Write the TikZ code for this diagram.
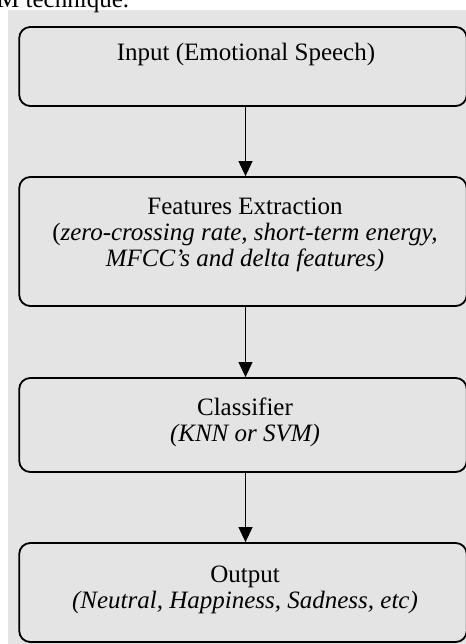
\documentclass[tikz,border=0pt]{standalone}
\usepackage{fontspec}
\setmainfont{Liberation Serif}
\usetikzlibrary{arrows.meta}
\definecolor{panel}{RGB}{228,228,228}
\tikzset{
  box/.style={draw=black, line width=1.8pt, rounded corners=11pt, fill=panel, inner sep=0pt},
  lbl/.style={anchor=base, inner sep=0pt, font=\fontsize{25}{26}\selectfont, align=center},
  conn/.style={line width=1.1pt, -{Triangle[width=14pt,length=15pt]}}
}
\begin{document}
\begin{tikzpicture}[x=1pt,y=-1pt]
\useasboundingbox (0,0) rectangle (465,644);
\fill[panel] (8,10) rectangle (470,650);
\node[anchor=base west, inner sep=0pt, font=\fontsize{25}{26}\selectfont] (cap) at (-3,7.5) {M technique.};
% boxes
\node[box, minimum width=447.5pt, minimum height=79pt] (b1) at (243,66.5) {};
\node[box, minimum width=447.5pt, minimum height=129pt] (b2) at (243,241.5) {};
\node[box, minimum width=447.5pt, minimum height=94pt] (b3) at (243,425) {};
\node[box, minimum width=447.5pt, minimum height=99pt] (b4) at (243,592.5) {};
% texts (base anchor = baseline of last line)
\node[lbl] (t1) at (246,61) {Input (Emotional Speech)};
\node[lbl] (t2) at (245,266.5) {Features Extraction\\(\textit{zero-crossing rate, short-term energy,}\\\textit{MFCC's and delta features)}};
\node[lbl] (t3) at (245,441) {Classifier\\\textit{(KNN or SVM)}};
\node[lbl] (t4) at (245,608) {Output\\\textit{(Neutral, Happiness, Sadness, etc)}};
% connectors
\coordinate (a1) at (245.5,0);
\draw[conn] (b1.south -| a1) -- (b2.north -| a1);
\draw[conn] (b2.south -| a1) -- (b3.north -| a1);
\draw[conn] (b3.south -| a1) -- (b4.north -| a1);
\end{tikzpicture}
\end{document}
